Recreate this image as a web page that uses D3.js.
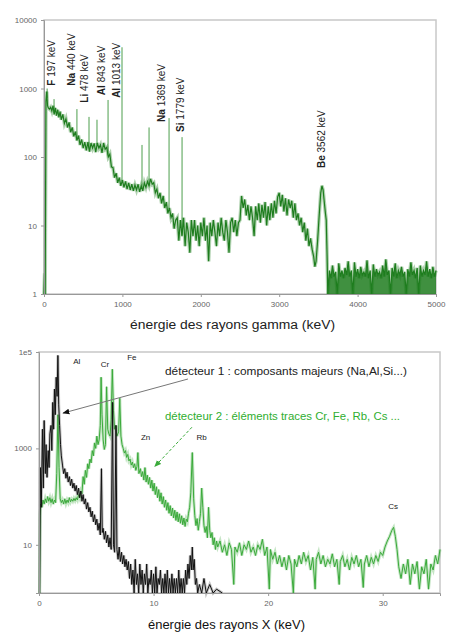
<!DOCTYPE html>
<html>
<head>
<meta charset="utf-8">
<script src="https://cdn.jsdelivr.net/npm/d3@7"></script>
<style>
  body { margin: 0; background: #fff; }
  svg text { font-family: "Liberation Sans", Arial, sans-serif; }
</style>
</head>
<body>
<svg id="chart" width="449" height="634"></svg>
<script>
// ---- spectre gamma (keV, coups) ----
const gammaSpectrum = [
  [0,1],[8,2],[15,1],[25,650],[35,900],[45,560],[55,520],[70,500],[85,530],[100,470],
  [115,560],[130,420],[145,520],[160,400],[175,490],[190,380],[205,460],[220,350],[240,420],[260,310],
  [280,360],[300,270],[320,320],[340,230],[360,270],[380,200],[400,235],[420,175],[440,205],[460,150],
  [480,180],[500,135],[520,165],[540,125],[560,165],[580,120],[600,160],[620,135],[640,158],[660,118],
  [680,160],[700,135],[720,150],[740,115],[760,160],[780,130],[800,138],[820,100],[840,110],[860,72],
  [880,70],[900,50],[920,58],[940,42],[960,50],[980,38],[1000,46],[1020,36],[1040,44],[1060,34],
  [1080,42],[1100,33],[1120,40],[1140,32],[1160,39],[1180,33],[1200,40],[1220,31],[1240,38],[1260,32],
  [1280,42],[1300,36],[1320,44],[1340,38],[1360,48],[1380,40],[1400,42],[1420,30],[1440,34],[1460,25],
  [1480,30],[1500,21],[1520,27],[1540,18],[1560,22],[1580,15],[1600,18],[1620,13],[1640,15],[1660,9],
  [1680,12],[1700,13],[1720,6],[1740,12],[1760,7],[1780,13],[1800,5],[1820,11],[1840,8],[1860,4],
  [1880,12],[1900,7],[1920,12],[1940,6],[1960,10],[1980,5],[2000,11],[2020,7],[2040,13],[2060,6],
  [2080,10],[2100,3],[2120,11],[2140,7],[2160,12],[2180,8],[2200,5],[2220,11],[2240,7],[2260,13],
  [2280,8],[2300,6],[2320,12],[2340,8],[2360,4],[2380,11],[2400,13],[2420,8],[2440,12],[2460,7],
  [2480,11],[2500,12],[2520,27],[2540,18],[2560,24],[2580,14],[2600,20],[2620,12],[2640,19],[2660,13],
  [2680,7],[2700,19],[2720,12],[2740,21],[2760,11],[2780,20],[2800,13],[2820,22],[2840,10],[2860,19],
  [2880,12],[2900,21],[2920,13],[2940,23],[2960,15],[2980,26],[3000,30],[3020,19],[3040,28],[3060,16],
  [3080,25],[3100,14],[3120,24],[3140,18],[3160,23],[3180,13],[3200,21],[3220,12],[3240,15],[3260,10],
  [3280,13],[3300,8],[3320,11],[3340,6],[3360,9],[3380,5],[3400,6.5],[3420,4.5],[3440,3.5],[3455,2.5],
  [3470,3],[3490,6],[3510,14],[3530,30],[3545,38],[3560,33],[3575,22],[3590,15],[3600,12],[3610,4],
  [3620,1],[3640,2.2],[3660,1.7],[3680,2.6],[3700,1.8],[3720,2.1],[3740,1],[3760,2.8],[3780,1.8],[3800,2.2],
  [3820,1.7],[3840,2.4],[3860,1.9],[3880,3],[3900,1.8],[3920,2.2],[3940,1],[3960,2.9],[3980,1.8],[4000,2.3],
  [4020,1.7],[4040,2.5],[4060,1.9],[4080,2.1],[4100,1.8],[4120,3.1],[4140,1.7],[4160,2.2],[4180,1],[4200,2.7],
  [4220,1.8],[4240,2.3],[4260,1.9],[4280,2.1],[4300,1.7],[4320,2.6],[4340,1.8],[4360,3.2],[4380,1.9],[4400,2.2],
  [4420,1],[4440,2.4],[4460,1.8],[4480,2.8],[4500,1.7],[4520,2.2],[4540,1.9],[4560,2.5],[4580,1.8],[4600,2.1],
  [4620,1],[4640,2.3],[4660,1.8],[4680,2.9],[4700,1.9],[4720,2.2],[4740,1.7],[4760,2.4],[4780,1],[4800,2.6],
  [4820,1.8],[4840,2.2],[4860,1.9],[4880,3],[4900,1.8],[4920,2.3],[4940,1.7],[4960,2.5],[4980,1.8],[5000,2.2]
];
// début de la queue bruitée (au-delà du pic Be)
const gammaTailStart = 3610;
// raies fines : [keV, sommet]
const gammaPeaks = [
  [40,1000],[128,700],[420,500],[574,385],[676,350],[817,680],[995,4000],[1250,150],[1340,270],[1595,370],[1761,195]
];
// étiquettes des raies : symbole, texte, ancrage [keV, coups]
const gammaLabelSym = ["F","Na","Li","Al","Al","Na","Si","Be"];
const gammaLabelTxt = [" 197 keV"," 440 keV"," 478 keV"," 843 keV"," 1013 keV"," 1369 keV"," 1779 keV"," 3562 keV"];
const gammaLabelAt = [[140,1100],[395,1100],[561,620],[778,800],[970,730],[1543,325],[1786,232],[3584,69]];
const gammaXTicks = [0,1000,2000,3000,4000,5000];
const gammaYTicks = [1,10,100,1000,10000];

// ---- spectre X (keV, coups) ----
const xrayDet1 = [
  [0.05,1],[0.12,400],[0.2,60],[0.3,2500],[0.38,150],[0.45,3800],[0.55,300],[0.62,1200],[0.7,250],[0.8,900],
  [0.88,400],[0.95,2000],[1.05,3000],[1.12,900],[1.2,9000],[1.28,2500],[1.35,17000],[1.42,5000],[1.5,30000],[1.58,12000],
  [1.65,85000],[1.72,8000],[1.8,3000],[1.88,1200],[1.95,700],[2.05,450],[2.15,300],[2.25,380],[2.35,240],[2.45,320],
  [2.55,200],[2.65,260],[2.75,170],[2.85,230],[2.95,150],[3.05,190],[3.15,130],[3.25,170],[3.35,110],[3.45,150],
  [3.55,95],[3.65,130],[3.75,80],[3.85,110],[3.95,70],[4.05,90],[4.15,55],[4.25,75],[4.35,48],[4.45,60],
  [4.55,38],[4.65,50],[4.75,30],[4.85,42],[4.95,26],[5.05,34],[5.15,20],[5.25,28],[5.35,16],[5.45,380],
  [5.52,18],[5.6,22],[5.7,13],[5.8,19],[5.9,11],[6.0,16],[6.1,9],[6.2,14],[6.3,8],[6.42,9000],
  [6.5,10],[6.6,7],[6.72,3000],[6.8,8],[6.9,5],[7.0,9],[7.1,4.5],[7.2,7],[7.3,4],[7.4,6],
  [7.5,3.5],[7.6,5],[7.7,3],[7.8,4.5],[7.9,2],[8.0,4],[8.1,1.5],[8.2,3],[8.3,1],[8.4,5],
  [8.5,1.5],[8.6,2.5],[8.7,1],[8.8,4],[8.9,1.5],[9.0,3],[9.1,1],[9.2,2.5],[9.3,1.5],[9.4,4],
  [9.5,1],[9.6,2],[9.7,1.5],[9.8,3],[9.9,1],[10.0,2.5],[10.1,1],[10.2,3.5],[10.3,1],[10.4,2],
  [10.5,1.5],[10.6,3],[10.7,1],[10.8,2],[10.9,1],[11.0,2.5],[11.1,1],[11.2,3],[11.3,1],[11.4,2],
  [11.5,1],[11.6,2.5],[11.7,1],[11.8,2],[11.9,1],[12.0,2],[12.1,1],[12.2,3],[12.3,1],[12.4,2],
  [12.5,1],[12.6,2],[12.7,1],[12.8,3],[12.9,1.5],[13.0,4],[13.1,2],[13.2,6],[13.3,3],[13.38,9],
  [13.45,3],[13.55,5],[13.65,1.5],[13.75,2],[13.85,1],[14.0,1.5],[14.2,1],[14.4,2],[14.6,1],[14.9,1.5],
  [15.2,1],[15.5,1.2],[16,1]
];
const xrayDet2 = [
  [0.05,1],[0.1,40],[0.15,70],[0.25,60],[0.35,85],[0.45,70],[0.55,90],[0.65,75],[0.75,100],[0.85,80],
  [0.95,95],[1.05,75],[1.15,90],[1.25,70],[1.35,85],[1.45,75],[1.55,300],[1.65,5000],[1.75,400],[1.85,90],
  [1.95,75],[2.05,85],[2.15,70],[2.25,90],[2.35,72],[2.45,85],[2.55,75],[2.65,95],[2.75,78],[2.85,88],
  [2.95,80],[3.05,92],[3.15,82],[3.25,95],[3.35,85],[3.45,110],[3.55,95],[3.65,130],[3.75,115],[3.85,260],
  [3.95,180],[4.05,350],[4.15,250],[4.25,480],[4.35,380],[4.45,600],[4.55,500],[4.65,900],[4.75,700],[4.85,1300],
  [4.95,1000],[5.05,1800],[5.15,1200],[5.25,1500],[5.35,3000],[5.42,30000],[5.5,5000],[5.6,1500],[5.7,950],[5.8,1200],
  [5.9,19000],[6.0,2500],[6.1,2000],[6.2,1800],[6.3,4000],[6.4,44000],[6.5,6000],[6.6,2500],[6.7,3000],[6.8,1800],
  [6.95,2200],[7.05,11000],[7.15,1800],[7.25,1200],[7.35,1000],[7.45,800],[7.55,900],[7.65,650],[7.75,750],[7.85,550],
  [7.95,600],[8.05,450],[8.15,520],[8.25,400],[8.35,480],[8.45,350],[8.55,420],[8.63,820],[8.72,300],[8.85,380],
  [8.95,260],[9.05,330],[9.15,220],[9.25,400],[9.35,200],[9.45,280],[9.55,180],[9.65,250],[9.75,150],[9.85,220],
  [9.95,130],[10.05,190],[10.15,110],[10.25,160],[10.35,95],[10.45,140],[10.55,80],[10.65,120],[10.75,70],[10.85,100],
  [10.95,60],[11.05,85],[11.15,52],[11.25,75],[11.35,45],[11.45,65],[11.55,40],[11.65,58],[11.75,36],[11.85,52],
  [11.95,32],[12.05,48],[12.15,30],[12.25,44],[12.35,28],[12.45,40],[12.55,26],[12.65,36],[12.75,24],[12.85,34],
  [12.95,30],[13.05,45],[13.15,60],[13.25,120],[13.38,820],[13.5,90],[13.6,40],[13.7,25],[13.8,35],[13.9,20],
  [14.0,30],[14.1,45],[14.2,150],[14.3,60],[14.4,25],[14.5,18],[14.6,24],[14.7,14],[14.8,60],[14.9,20],
  [15.0,14],[15.1,18],[15.2,10],[15.3,14],[15.4,8],[15.5,12],[15.6,9],[15.8,12],[16.0,7],[16.2,10],
  [16.4,6],[16.6,11],[16.8,8],[17.0,1.5],[17.1,9],[17.3,7],[17.5,11],[17.7,6],[17.9,10],[18.1,8],
  [18.3,12],[18.5,7],[18.7,9],[18.9,6],[19.1,10],[19.3,8],[19.5,13],[19.7,6],[19.9,9],[20.1,1.2],
  [20.2,8],[20.4,5],[20.6,7],[20.8,4],[21.0,6],[21.2,3.5],[21.4,5.5],[21.6,3],[21.8,6],[22.0,4],
  [22.2,1],[22.3,5],[22.5,3.5],[22.7,6],[22.9,4],[23.1,7],[23.3,4.5],[23.5,6],[23.7,3],[23.9,5.5],
  [24.1,1.2],[24.2,5],[24.4,7],[24.6,4],[24.8,6],[25.0,3.5],[25.2,5],[25.4,4],[25.6,6.5],[25.8,3.5],
  [26.0,5],[26.2,1.5],[26.3,4.5],[26.5,6],[26.7,3.5],[26.9,5],[27.1,3],[27.3,5.5],[27.5,4],[27.7,6],
  [27.9,3.5],[28.1,5],[28.3,1.3],[28.4,4],[28.6,6],[28.8,3.5],[29.0,5.5],[29.2,4],[29.4,6],[29.6,4.5],
  [29.8,7],[30.0,6],[30.2,9],[30.4,12],[30.6,15],[30.8,20],[30.95,23],[31.1,15],[31.25,8],[31.4,3.5],
  [31.6,2],[31.8,4],[32.0,2.5],[32.2,5],[32.4,1.5],[32.6,4],[32.8,2.5],[33.0,4.5],[33.2,1.2],[33.4,3.5],
  [33.6,2.5],[33.8,5],[34.0,1.2],[34.2,4],[34.4,3],[34.6,6],[34.8,4],[35.0,8]
];
const xrayElemNames = ["Al","Cr","Fe","Zn","Rb","Cs"];
const xrayElemAt = [[3.3,56000],[5.76,49000],[8.1,68000],[9.3,1470],[14.2,1470],[30.9,54]];
const detectorText = ["détecteur 1 : composants majeurs (Na,Al,Si...)", "détecteur 2 : éléments traces Cr, Fe, Rb, Cs ..."];
const detectorTextAt = [[11.0,33000],[11.0,3800]];
// flèches : [départ], [arrivée]
const detectorArrows = [[[13.0,27500],[2.1,5400]], [[13.35,2750],[10.1,420]]];
const xrayXTicks = [0,10,20,30];
const xrayYTicks = [10,1000,100000];

// ---- dessin ----
const svg = d3.select("#chart");
const gammaGreen = "#1e7d1e";
const xrayGreen = "#3aaa3a";

const defs = svg.append("defs");
["blk","grn"].forEach((id, i) => {
  defs.append("marker").attr("id", id).attr("viewBox", "0 0 10 10")
    .attr("refX", 9).attr("refY", 5).attr("markerWidth", 7).attr("markerHeight", 7)
    .attr("orient", "auto-start-reverse")
    .append("path").attr("d", "M0,1 L10,5 L0,9 z").attr("fill", i ? xrayGreen : "#111");
});

const styleAxis = (g) => {
  g.select(".domain").attr("stroke", "#999");
  g.selectAll(".tick line").attr("stroke", "#999");
  g.selectAll(".tick text").attr("fill", "#666").style("font-size", "8px");
};

// ===== graphe gamma =====
const gx = d3.scaleLinear().domain([0, 5000]).range([44, 436]);
const gy = d3.scaleLog().domain([1, 10000]).range([294, 20]);

svg.append("rect").attr("x", 44).attr("y", 20).attr("width", 392).attr("height", 274)
  .attr("fill", "none").attr("stroke", "#c8c8c8").attr("stroke-width", 1.5);

const gLine = d3.line().x(d => gx(d[0])).y(d => gy(d[1]));
const bis = d3.bisector(d => d[0]).left;
const spectrumAt = (e) => {
  const i = Math.max(1, bis(gammaSpectrum, e));
  const a = gammaSpectrum[i - 1], b = gammaSpectrum[i];
  return a[1] + (b[1] - a[1]) * (e - a[0]) / (b[0] - a[0]);
};

svg.append("g").selectAll("line").data(gammaPeaks).join("line")
  .attr("x1", d => gx(d[0])).attr("x2", d => gx(d[0]))
  .attr("y1", d => gy(d[1])).attr("y2", d => gy(spectrumAt(d[0])))
  .attr("stroke", "#4d9e4d").attr("stroke-width", 1);

// queue : comptages faibles très serrés -> rendu en aire pleine
const tail = gammaSpectrum.filter(d => d[0] >= gammaTailStart);
svg.append("path").datum(tail)
  .attr("d", d3.area().x(d => gx(d[0])).y0(gy(1)).y1(d => gy(d[1])))
  .attr("fill", gammaGreen).attr("fill-opacity", 0.85);

svg.append("path").datum(gammaSpectrum).attr("d", gLine)
  .attr("fill", "none").attr("stroke", gammaGreen).attr("stroke-opacity", 0.35).attr("stroke-width", 3.5);
svg.append("path").datum(gammaSpectrum).attr("d", gLine)
  .attr("fill", "none").attr("stroke", gammaGreen).attr("stroke-width", 1.2);

const gLabels = svg.append("g").style("font-size", "10px").attr("fill", "#222");
gammaLabelAt.forEach((p, i) => {
  const t = gLabels.append("text")
    .attr("transform", `translate(${gx(p[0])},${gy(p[1])}) rotate(-90)`);
  t.append("tspan").attr("font-weight", "bold").text(gammaLabelSym[i]);
  t.append("tspan").text(gammaLabelTxt[i]);
});

svg.append("g").attr("transform", "translate(0,294)")
  .call(d3.axisBottom(gx).tickValues(gammaXTicks).tickFormat(d3.format("d")).tickSize(3).tickPadding(4))
  .call(styleAxis);
svg.append("g").attr("transform", "translate(44,0)")
  .call(d3.axisLeft(gy).tickValues(gammaYTicks).tickFormat(d3.format("d")).tickSize(3).tickPadding(4))
  .call(styleAxis);

svg.append("text").attr("x", 130).attr("y", 329)
  .attr("textLength", 205).attr("lengthAdjust", "spacingAndGlyphs")
  .style("font-size", "12.5px").attr("fill", "#222").text("énergie des rayons gamma (keV)");

// ===== graphe X =====
const xx = d3.scaleLinear().domain([0, 35]).range([39, 440]);
const xy = d3.scaleLog().domain([1, 100000]).range([593, 352]);

svg.append("rect").attr("x", 39).attr("y", 352).attr("width", 401).attr("height", 241)
  .attr("fill", "none").attr("stroke", "#c8c8c8").attr("stroke-width", 1.5);

const xLine = d3.line().x(d => xx(d[0])).y(d => xy(d[1]));
svg.append("path").datum(xrayDet2).attr("d", xLine)
  .attr("fill", "none").attr("stroke", xrayGreen).attr("stroke-opacity", 0.3).attr("stroke-width", 3);
svg.append("path").datum(xrayDet2).attr("d", xLine)
  .attr("fill", "none").attr("stroke", xrayGreen).attr("stroke-width", 1);
svg.append("path").datum(xrayDet1).attr("d", xLine)
  .attr("fill", "none").attr("stroke", "#444").attr("stroke-opacity", 0.3).attr("stroke-width", 3);
svg.append("path").datum(xrayDet1).attr("d", xLine)
  .attr("fill", "none").attr("stroke", "#111").attr("stroke-width", 1);

svg.append("g").style("font-size", "8px").attr("fill", "#222")
  .selectAll("text").data(xrayElemAt).join("text")
  .attr("x", d => xx(d[0])).attr("y", d => xy(d[1])).attr("text-anchor", "middle")
  .text((d, i) => xrayElemNames[i]);

detectorArrows.forEach((a, i) => {
  svg.append("line")
    .attr("x1", xx(a[0][0])).attr("y1", xy(a[0][1]))
    .attr("x2", xx(a[1][0])).attr("y2", xy(a[1][1]))
    .attr("stroke", i ? xrayGreen : "#777").attr("stroke-width", 1)
    .attr("stroke-dasharray", i ? "3,2" : null)
    .attr("marker-end", `url(#${i ? "grn" : "blk"})`);
});

const detLen = [242, 235];
svg.append("g").style("font-size", "10px")
  .selectAll("text").data(detectorTextAt).join("text")
  .attr("x", d => xx(d[0])).attr("y", d => xy(d[1]))
  .attr("textLength", (d, i) => detLen[i]).attr("lengthAdjust", "spacingAndGlyphs")
  .attr("fill", (d, i) => i ? "#2fae2f" : "#222")
  .text((d, i) => detectorText[i]);

svg.append("g").attr("transform", "translate(0,593)")
  .call(d3.axisBottom(xx).tickValues(xrayXTicks).tickSize(3).tickPadding(4))
  .call(styleAxis);
svg.append("g").attr("transform", "translate(39,0)")
  .call(d3.axisLeft(xy).tickValues(xrayYTicks).tickFormat(d => d === 100000 ? "1e5" : d3.format("d")(d)).tickSize(3).tickPadding(4))
  .call(styleAxis);

svg.append("text").attr("x", 148).attr("y", 629)
  .attr("textLength", 157).attr("lengthAdjust", "spacingAndGlyphs")
  .style("font-size", "12.5px").attr("fill", "#111").text("énergie des rayons X (keV)");
</script>
</body>
</html>
